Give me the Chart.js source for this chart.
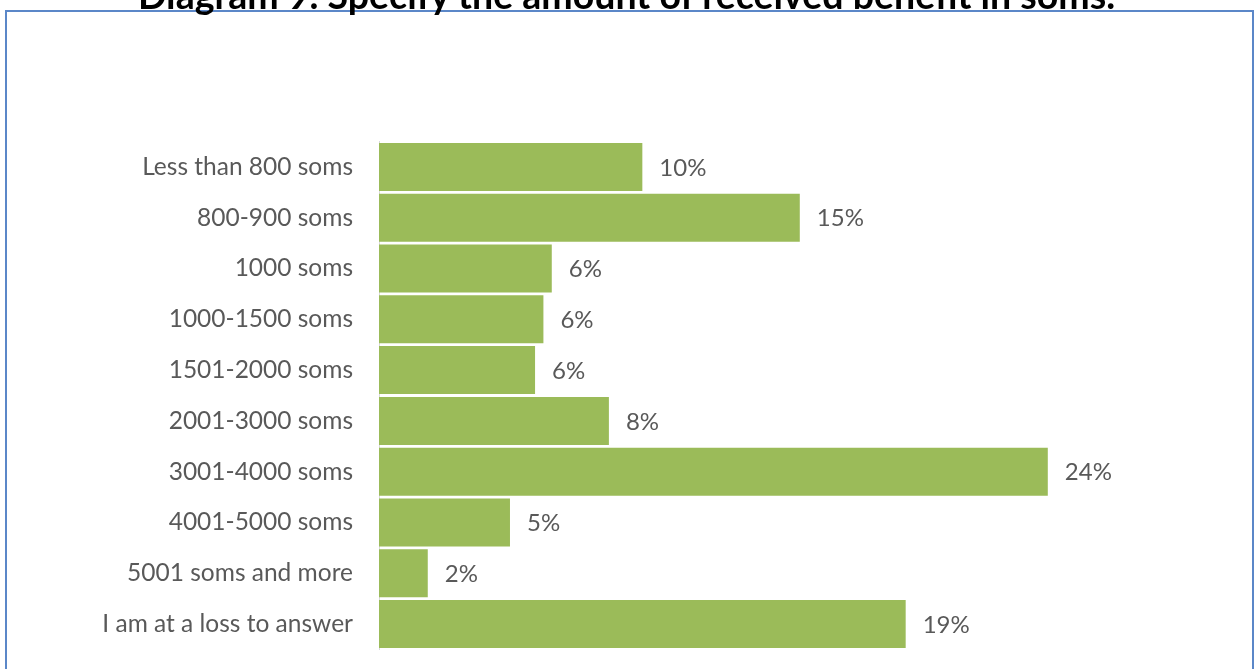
<!DOCTYPE html>
<html>
<head>
<meta charset="utf-8">
<script src="https://cdn.jsdelivr.net/npm/chart.js@4/dist/chart.umd.min.js"></script>
<style>
    html, body { margin: 0; padding: 0; background: #fff; overflow: hidden; }
    body { width: 1259px; height: 669px; position: relative; }
    #frame {
        position: absolute; left: 5px; top: 10px; width: 1245px; height: 700px;
        border: 2px solid #5b87c8; border-bottom: none;
    }
    #title {
        position: absolute; left: -3px; top: -24px; width: 1259px; text-align: center;
        font: bold 37.5px Lato, sans-serif; line-height: 37px; color: #000; z-index: 2;
        white-space: nowrap;
    }
    #myChart { position: absolute; left: 0; top: 0; width: 1259px; height: 669px; }
</style>
</head>
<body>
<div id="frame"></div>
<div id="title">Diagram 9. Specify the amount of received benefit in soms.</div>
<canvas id="myChart" width="1259" height="669"></canvas>
<script>
const categories = [
    'Less than 800 soms',
    '800-900 soms',
    '1000 soms',
    '1000-1500 soms',
    '1501-2000 soms',
    '2001-3000 soms',
    '3001-4000 soms',
    '4001-5000 soms',
    '5001 soms and more',
    'I am at a loss to answer'
];
// bar lengths (percent)
const shares = [9.45, 15.1, 6.2, 5.9, 5.6, 8.25, 24.0, 4.7, 1.75, 18.9];
// labels as printed next to the bars
const shareLabels = ['10%', '15%', '6%', '6%', '6%', '8%', '24%', '5%', '2%', '19%'];

const barLabels = {
    id: 'barLabels',
    afterDatasetsDraw(chart) {
        const ctx = chart.ctx;
        const meta = chart.getDatasetMeta(0);
        ctx.save();
        ctx.font = '24px Lato, sans-serif';
        ctx.fillStyle = '#595959';
        ctx.textAlign = 'left';
        ctx.textBaseline = 'middle';
        meta.data.forEach((bar, i) => {
            ctx.fillText(shareLabels[i], bar.x + 17, bar.y + 1);
        });
        ctx.restore();
    }
};

const ctx = document.getElementById('myChart').getContext('2d');
new Chart(ctx, {
    type: 'bar',
    data: {
        labels: categories,
        datasets: [{
            data: shares,
            backgroundColor: '#9bbb59',
            borderWidth: 0,
            barPercentage: 1,
            categoryPercentage: 0.945
        }]
    },
    options: {
        indexAxis: 'y',
        responsive: false,
        animation: false,
        layout: { padding: { left: 0, right: 44, top: 141.5, bottom: 19.5 } },
        plugins: {
            legend: { display: false },
            tooltip: { enabled: false }
        },
        scales: {
            x: {
                display: false,
                min: 0,
                max: 30
            },
            y: {
                afterFit: (scale) => {
                    // fixed label column, no extra padding from the label height
                    scale.width = 379;
                    scale.paddingTop = 0;
                    scale.paddingBottom = 0;
                },
                grid: { display: false, drawTicks: false },
                border: { display: true, color: '#d9d9d9', width: 1 },
                ticks: {
                    color: '#595959',
                    padding: 26,
                    font: { family: 'Lato, sans-serif', size: 24.5 }
                }
            }
        }
    },
    plugins: [barLabels]
});
</script>
</body>
</html>
